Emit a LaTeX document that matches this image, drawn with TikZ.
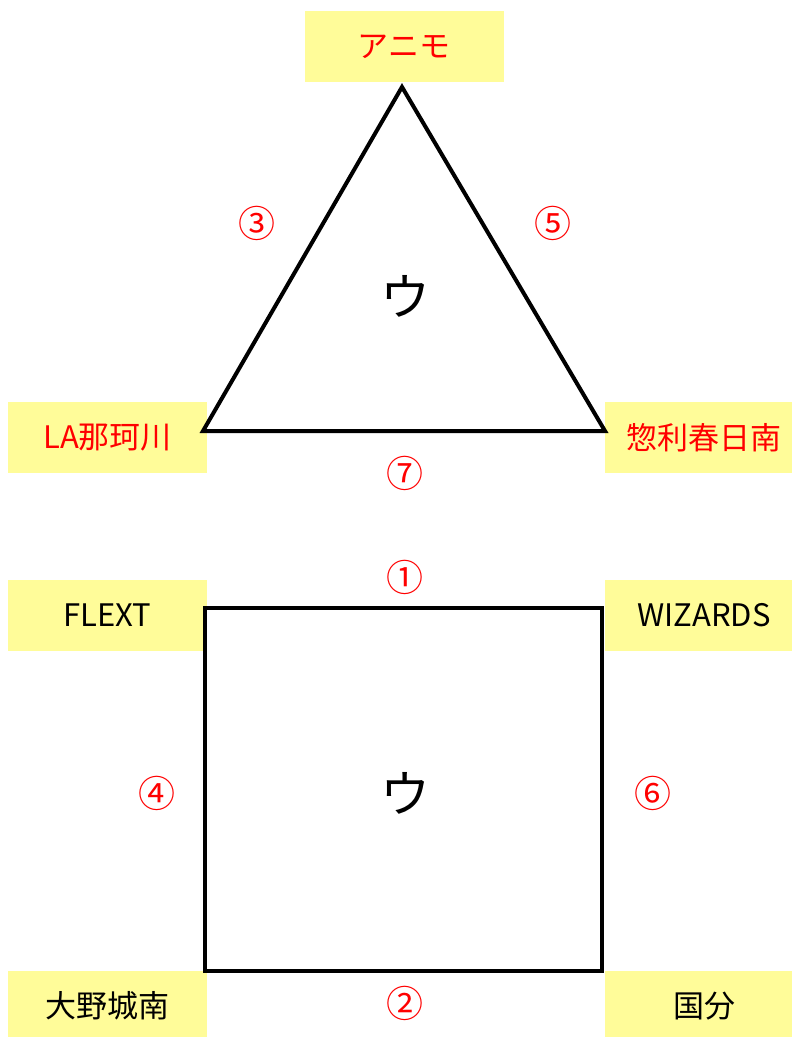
\documentclass[tikz,border=0pt]{standalone}
\usepackage{fontspec}
\setmainfont{Noto Sans CJK JP}
\definecolor{stnyellow}{RGB}{255,252,153}

\tikzset{
  stn/.style={fill=stnyellow, minimum width=199pt, minimum height=71pt, inner sep=0pt,
    font=\fontsize{31}{34}\selectfont},
  stnred/.style={stn, text=red},
  edgenum/.style={text=red, font=\fontsize{37}{40}\selectfont},
  area/.style={font=\fontsize{50}{54}\selectfont},
  wall/.style={line width=4pt, line join=miter}
}

\begin{document}
\begin{tikzpicture}[x=1pt,y=-1pt]
        \useasboundingbox (0,0) rectangle (792,1037);
        % triangle
        \node[stnred] (animo) at (404,46.5) {アニモ};
        \node[stnred] (nakagawa) at (107.5,437.5) {LA那珂川};
        \node[stnred] (sori) at (704,437.5) {惣利春日南};
        \coordinate (apex) at (402,87);
        \coordinate (tleft) at (203,431);
        \coordinate (tright) at (605,431);
        \draw[wall] (apex) -- (tright) -- (tleft) -- cycle;
        \node[edgenum] (e3) at (257,223) {③};
        \node[edgenum] (e5) at (553,223) {⑤};
        \node[edgenum] (e7) at (405,473) {⑦};
        \node[area] (tri) at (405,296) {ウ};
        % square
        \node[stn] (flext) at (107.5,615) {FLEXT};
        \node[stn] (wizards) at (704,615) {WIZARDS};
        \node[stn] (onojo) at (107.5,1006) {大野城南};
        \node[stn] (kokubu) at (704,1006) {国分};
        \coordinate (sqa) at (205,608);
        \coordinate (sqb) at (602,608);
        \coordinate (sqc) at (602,971);
        \coordinate (sqd) at (205,971);
        \draw[wall] (sqa) -- (sqb) -- (sqc) -- (sqd) -- cycle;
        \node[edgenum] (e1) at (405,577) {①};
        \node[edgenum] (e4) at (157,793) {④};
        \node[edgenum] (e6) at (653,793) {⑥};
        \node[edgenum] (e2) at (405,1003) {②};
        \node[area] (sq) at (405,793) {ウ};
\end{tikzpicture}
\end{document}
